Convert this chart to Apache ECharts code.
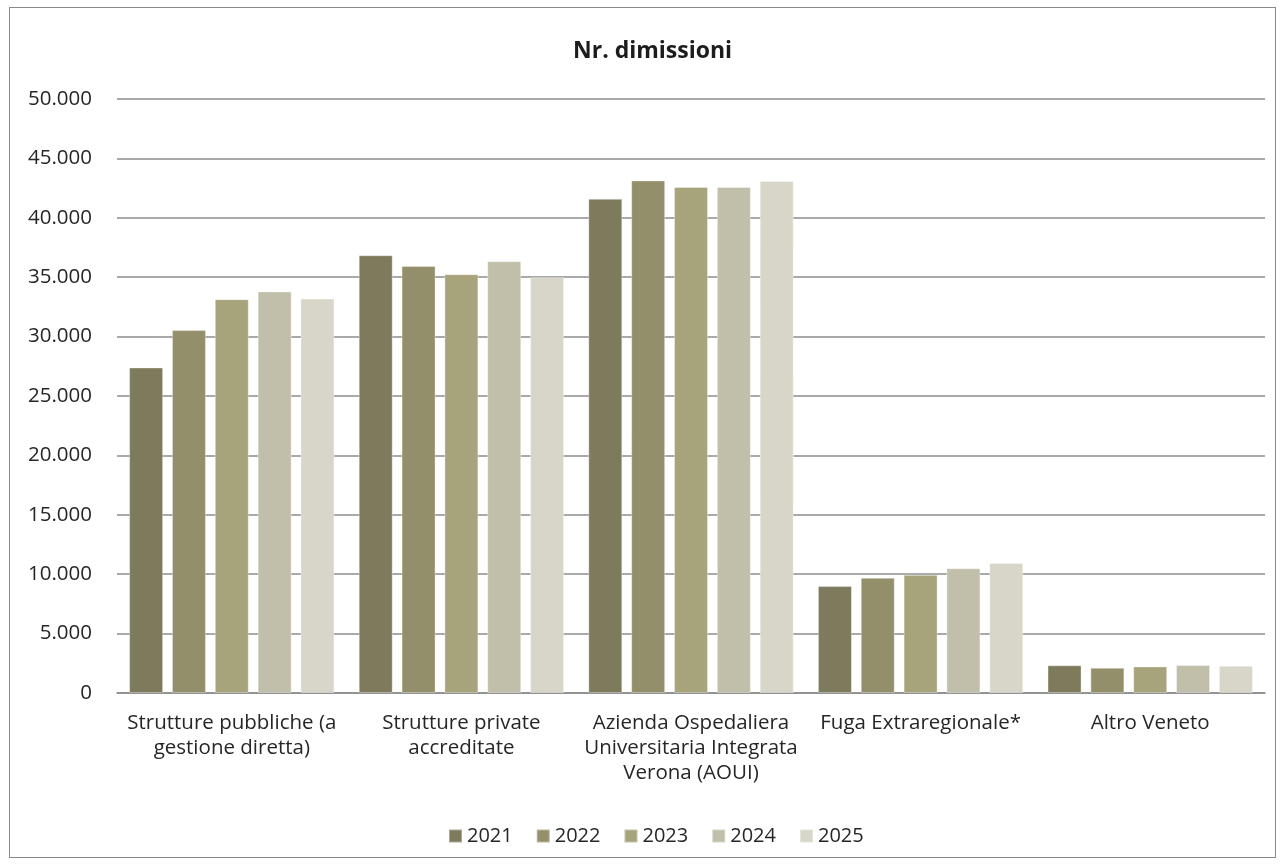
<!DOCTYPE html>
<html>
<head>
<meta charset="utf-8">
<script src="https://cdn.jsdelivr.net/npm/echarts@6/dist/echarts.min.js"></script>
<style>
  html, body { margin: 0; padding: 0; background: #ffffff; }
  #frame { position: absolute; left: 9px; top: 7px; width: 1267px; height: 851px; border: 1px solid #8a8a8a; box-sizing: border-box; }
  #chart { position: absolute; left: 0; top: 0; width: 1285px; height: 867px; }
</style>
</head>
<body>
<div id="frame"></div>
<div id="chart"></div>
<script>
// Discharges by provider type, 2021-2025
const categories = [
  'Strutture pubbliche (a\ngestione diretta)',
  'Strutture private\naccreditate',
  'Azienda Ospedaliera\nUniversitaria Integrata\nVerona (AOUI)',
  'Fuga Extraregionale*',
  'Altro Veneto'
];
const years = ['2021', '2022', '2023', '2024', '2025'];
const v2021 = [27400, 36850, 41600, 9000, 2330];
const v2022 = [30550, 35950, 43150, 9700, 2130];
const v2023 = [33150, 35250, 42600, 9950, 2240];
const v2024 = [33800, 36350, 42600, 10500, 2350];
const v2025 = [33200, 35000, 43100, 10950, 2290];
const yTicks = { min: 0, max: 50000, interval: 5000 };

const values = [v2021, v2022, v2023, v2024, v2025];
const colors = ['#7e7a5c', '#948f6b', '#a7a47b', '#c1bfa9', '#d8d6c9'];
const font = '"Open Sans", Lato, sans-serif';
const textColor = '#262626';

const fmt = n => String(n).replace(/\B(?=(\d{3})+(?!\d))/g, '.');

const chart = echarts.init(document.getElementById('chart'), null, { renderer: 'canvas' });
chart.setOption({
  animation: false,
  textStyle: { fontFamily: font },
  title: {
    text: 'Nr. dimissioni',
    left: 568,
    top: 35,
    textStyle: { fontFamily: font, fontSize: 23, fontWeight: 'bold', color: '#1c1c1c' }
  },
  legend: {
    data: years,
    top: 821,
    left: 443,
    itemWidth: 13,
    itemHeight: 13,
    itemGap: 23,
    icon: 'rect',
    textStyle: { fontFamily: font, fontSize: 20, lineHeight: 20, color: textColor }
  },
  grid: { left: 117, right: 20, top: 99, bottom: 174, containLabel: false },
  xAxis: {
    type: 'category',
    data: categories,
    axisLine: { show: true, lineStyle: { color: '#8c8c8c', width: 1.5 } },
    axisTick: { show: false },
    axisLabel: { fontFamily: font, fontSize: 20.5, color: textColor, lineHeight: 25, margin: 18, interval: 0 }
  },
  yAxis: {
    type: 'value',
    min: yTicks.min,
    max: yTicks.max,
    interval: yTicks.interval,
    axisLine: { show: false },
    axisTick: { show: false },
    splitLine: { lineStyle: { color: '#8c8c8c', width: 1.5 } },
    axisLabel: { fontFamily: font, fontSize: 20.5, color: textColor, margin: 25, formatter: v => fmt(v) }
  },
  series: years.map((y, i) => ({
    name: y,
    type: 'bar',
    data: values[i],
    barWidth: 34,
    barGap: '26%',
    barCategoryGap: '10.7%',
    itemStyle: { color: colors[i], borderColor: 'rgba(255,255,255,0.35)', borderWidth: 1 }
  }))
});
</script>
</body>
</html>
